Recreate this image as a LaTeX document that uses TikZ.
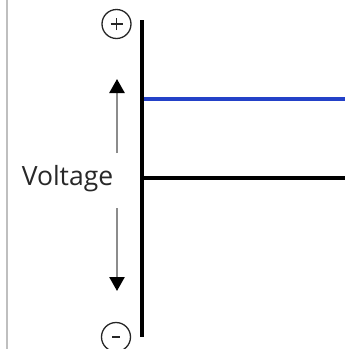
\documentclass[tikz,border=0pt]{standalone}
\usepackage{fontspec}
\setmainfont{Open Sans}
\usetikzlibrary{arrows.meta}
\definecolor{bluel}{RGB}{35,65,200}
\definecolor{txt}{RGB}{40,40,40}
\tikzset{
  signcircle/.style={circle, draw=black!85, line width=1.3pt, minimum size=29pt, inner sep=0pt},
  signbar/.style={line width=1.8pt, black!85},
  thickline/.style={line width=4.5pt, black},
  vArrow/.style={line width=2.5pt, black!45, -{Triangle[length=14pt,width=15pt,color=black]}}
}
\begin{document}
\begin{tikzpicture}[x=1pt,y=-1pt]
\useasboundingbox (0,0) rectangle (345,349);
\fill[white] (0,0) rectangle (345,349);
\coordinate (gT) at (7,0);
\coordinate (gB) at (7,349);
\draw[line width=2pt, black!25] (gT) -- (gB);
\coordinate (top) at (142,20);
\coordinate (bot) at (142,337);
\coordinate (blueL) at (142,99);
\coordinate (blueR) at (345,99);
\coordinate (midL) at (142,178);
\coordinate (midR) at (345,178);
\draw[line width=4pt, bluel] (blueL) -- (blueR);
\draw[thickline] (midL) -- (midR);
\draw[thickline] (top) -- (bot);
\node[text=txt, font=\fontsize{26.5}{26.5}\selectfont, inner sep=0pt, anchor=base] (volt) at (67.5,185) {Voltage};
\coordinate (upS) at (117,153);
\coordinate (upT) at (117,79);
\coordinate (dnS) at (117,208);
\coordinate (dnT) at (117,291);
\draw[vArrow] (upS) -- (upT);
\draw[vArrow] (dnS) -- (dnT);
\node[signcircle] (plus) at (116.5,24) {};
\draw[signbar] ([xshift=-6pt]plus.center) -- ([xshift=6pt]plus.center);
\draw[signbar] ([yshift=-6pt]plus.center) -- ([yshift=6pt]plus.center);
\node[signcircle] (minus) at (116,337) {};
\draw[signbar] ([xshift=-4pt]minus.center) -- ([xshift=4pt]minus.center);
\end{tikzpicture}
\end{document}
